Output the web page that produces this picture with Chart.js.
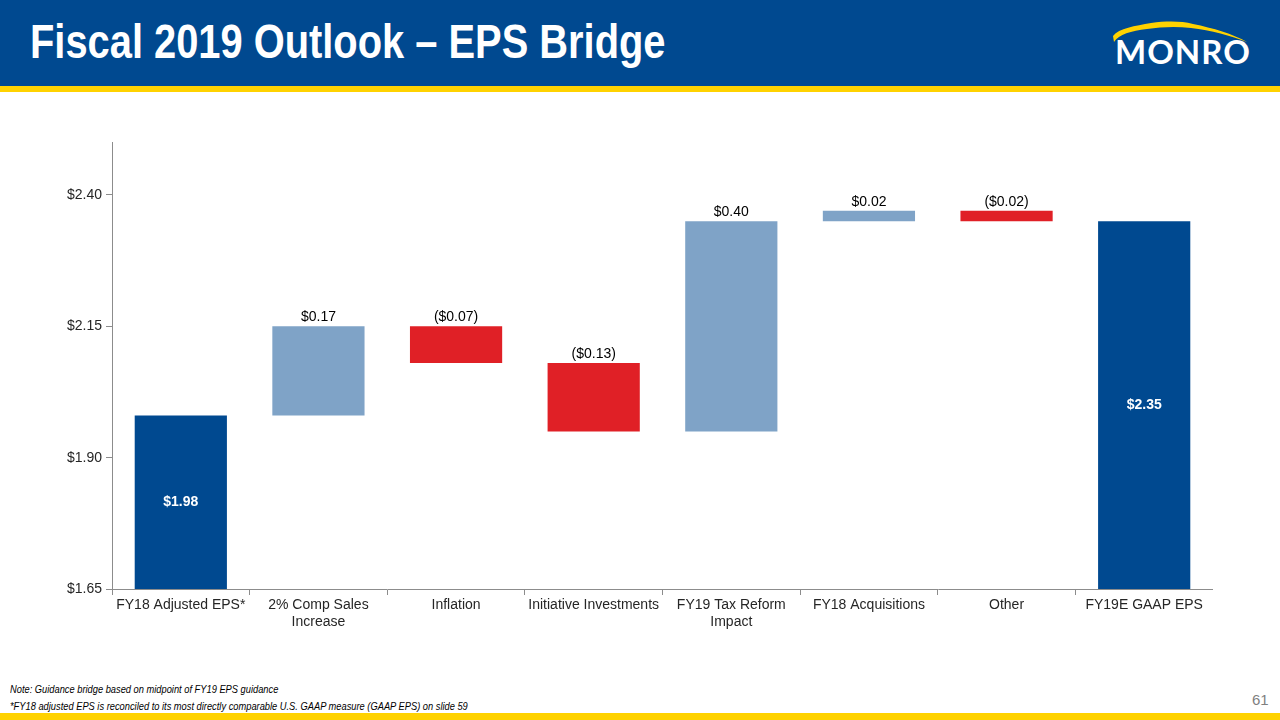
<!DOCTYPE html>
<html>
<head>
<meta charset="utf-8">
<script src="https://cdn.jsdelivr.net/npm/chart.js@4.4.0/dist/chart.umd.min.js"></script>
<style>
  body { margin: 0; width: 1280px; height: 720px; position: relative; background: #fff; overflow: hidden; font-family: "Liberation Sans", Arial, sans-serif; }
  #header { position: absolute; left: 0; top: 0; width: 1280px; height: 86px; background: #004990; }
  #headerStripe { position: absolute; left: 0; top: 86px; width: 1280px; height: 6px; background: #FFD200; }
  #title { position: absolute; left: 30px; top: 14px; color: #fff; font-weight: bold; font-size: 48px; white-space: nowrap; transform: scaleX(0.83); transform-origin: left top; }
  #logo { position: absolute; left: 1105px; top: 14px; }
  #footStripe { position: absolute; left: 0; top: 713px; width: 1280px; height: 7px; background: #FFD200; }
  .note { position: absolute; left: 10px; font-size: 10px; font-style: italic; color: #000; white-space: nowrap; transform: scaleX(0.93); transform-origin: left top; }
  #page { position: absolute; left: 1252px; top: 691px; font-size: 15px; color: #7f7f7f; }
  #chart { position: absolute; left: 40px; top: 130px; }
</style>
</head>
<body>
<div id="header"></div>
<div id="headerStripe"></div>
<div id="title">Fiscal 2019 Outlook – EPS Bridge</div>
<svg id="logo" width="160" height="60" viewBox="0 0 160 60">
  <path d="M8 22 C 14 14, 30 12, 46 9 C 62 7, 76 7, 88 10 C 108 14, 128 20, 142 28 C 126 22, 106 16, 86 14 C 70 12, 56 13, 42 15 C 26 17, 14 20, 9 28 Z" fill="#FFD200"/>
  <text x="10" y="50" fill="#fff" font-family="Lato, 'Open Sans', sans-serif" font-weight="bold" font-size="33" letter-spacing="1">MONRO</text>
</svg>
<canvas id="chart" width="1173" height="520"></canvas>
<div class="note" style="top:684px">Note: Guidance bridge based on midpoint of FY19 EPS guidance</div>
<div class="note" style="top:701px">*FY18 adjusted EPS is reconciled to its most directly comparable U.S. GAAP measure (GAAP EPS) on slide 59</div>
<div id="page">61</div>
<div id="footStripe"></div>
<script>
var categories = [
    "FY18 Adjusted EPS*",
    ["2% Comp Sales", "Increase"],
    "Inflation",
    "Initiative Investments",
    ["FY19 Tax Reform", "Impact"],
    "FY18 Acquisitions",
    "Other",
    "FY19E GAAP EPS"
];
var startEps = 1.98;
var changes = [0.17, -0.07, -0.13, 0.40, 0.02, -0.02];
var endEps = 2.35;
var axisMin = 1.65;
var axisMax = 2.50;
var yTicks = [1.65, 1.90, 2.15, 2.40];

var darkBlue = "#004990";
var lightBlue = "#7FA3C7";
var red = "#E02026";

// floating bars: [from, to]
var ranges = [[axisMin, startEps]];
var colors = [darkBlue];
var labelText = ["$" + startEps.toFixed(2)];
var isTotal = [true];
var running = startEps;
changes.forEach(function (c) {
    var next = Math.round((running + c) * 100) / 100;
    ranges.push([running, next]);
    colors.push(c >= 0 ? lightBlue : red);
    labelText.push(c >= 0 ? "$" + c.toFixed(2) : "($" + (-c).toFixed(2) + ")");
    isTotal.push(false);
    running = next;
});
ranges.push([axisMin, endEps]);
colors.push(darkBlue);
labelText.push("$" + endEps.toFixed(2));
isTotal.push(true);

var valueLabels = {
    id: "valueLabels",
    afterDatasetsDraw: function (chart) {
        var ctx = chart.ctx;
        var meta = chart.getDatasetMeta(0);
        ctx.save();
        ctx.textAlign = "center";
        meta.data.forEach(function (bar, i) {
            var top = Math.min(bar.y, bar.base);
            var bottom = Math.max(bar.y, bar.base);
            if (isTotal[i]) {
                ctx.fillStyle = "#fff";
                ctx.font = "bold 14px 'Liberation Sans', Arial";
                ctx.textBaseline = "middle";
                ctx.fillText(labelText[i], bar.x, (top + bottom) / 2);
            } else {
                ctx.fillStyle = "#000";
                ctx.font = "14px 'Liberation Sans', Arial";
                ctx.textBaseline = "bottom";
                ctx.fillText(labelText[i], bar.x, top - 2);
            }
        });
        ctx.restore();
    }
};

var chart = new Chart(document.getElementById("chart").getContext("2d"), {
    type: "bar",
    data: {
        labels: categories,
        datasets: [{
            data: ranges,
            backgroundColor: colors,
            borderWidth: 0,
            barPercentage: 0.67,
            categoryPercentage: 1.0
        }]
    },
    options: {
        responsive: false,
        animation: false,
        layout: { padding: { top: 10, right: 0, left: 0, bottom: 0 } },
        plugins: { legend: { display: false }, tooltip: { enabled: false } },
        scales: {
            x: {
                grid: { drawOnChartArea: false, drawTicks: true, tickLength: 6, color: "#8c8c8c", offset: true },
                border: { color: "#8c8c8c" },
                ticks: { color: "#262626", font: { size: 14, family: "'Liberation Sans', Arial" }, maxRotation: 0, autoSkip: false, padding: 2 },
                afterFit: function (scale) { scale.height = 61; }
            },
            y: {
                min: axisMin,
                max: axisMax,
                grid: { drawOnChartArea: false, drawTicks: true, tickLength: 6, color: "#8c8c8c" },
                border: { color: "#8c8c8c" },
                ticks: {
                    color: "#262626",
                    font: { size: 14, family: "'Liberation Sans', Arial" },
                    padding: 4,
                    callback: function (v) { return "$" + Number(v).toFixed(2); }
                },
                afterBuildTicks: function (scale) {
                    scale.ticks = yTicks.map(function (v) { return { value: v }; });
                },
                afterFit: function (scale) { scale.width = 72; }
            }
        }
    },
    plugins: [valueLabels]
});
</script>
</body>
</html>
